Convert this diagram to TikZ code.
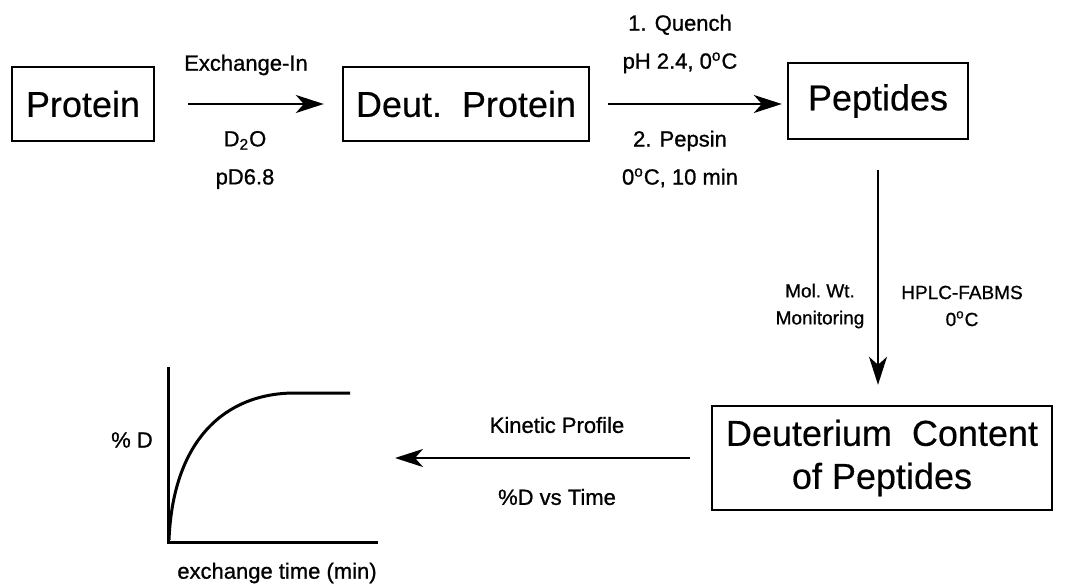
\documentclass[tikz,border=0pt]{standalone}
\usepackage{fontspec}
\setmainfont{Liberation Sans}
\newfontfamily\boxfont{Liberation Sans}[FakeBold=0.4]
\newfontfamily\lblfont{Liberation Sans}[FakeBold=0.9]
\usetikzlibrary{arrows.meta,positioning,calc}

\begin{document}
\begin{tikzpicture}[x=0.5pt, y=-0.5pt,
    box/.style={draw, line width=1.2pt, inner sep=0pt, font=\boxfont\fontsize{18}{21.5}\selectfont, align=center},
    lbl/.style={font=\lblfont\fontsize{11}{19}\selectfont, align=center},
    slbl/.style={font=\lblfont\fontsize{9.5}{13.5}\selectfont, align=center},
    arrow/.style={-{Stealth[length=14pt, width=9pt, inset=4pt]}, line width=1pt},
    axis/.style={line width=1.5pt}
]
\useasboundingbox (0,0) rectangle (1086,588);

% Boxes of the scheme
\node[box, minimum width=71pt, minimum height=37pt] (prot) at (83,104) {Protein};
\node[box, minimum width=123pt, minimum height=37pt] (deut) at (466,104) {Deut.~~Protein};
\node[box, minimum width=90pt, minimum height=38pt] (pept) at (878,101) {Peptides};
\node[box, minimum width=170pt, minimum height=52pt] (dcont) at (882,458) {Deuterium~~Content\\of Peptides};

% Arrows between the boxes
\draw[arrow, shorten <=16.5pt, shorten >=9pt] (prot) -- (deut);
\draw[arrow, shorten <=9pt, shorten >=2.5pt] (deut.east) -- (deut.east -| pept.west);
\draw[arrow, shorten <=15pt, shorten >=10pt] (pept.south) -- (pept.south |- dcont.north);
\coordinate (plot) at (395,458);
\draw[arrow, shorten <=10.5pt] (dcont.west) -- (plot);

% Conditions
\node[lbl] (exin) at (246,65) {Exchange-In};
\node[lbl] (dtwo) at (245,160) {D\textsubscript{2}O\\pD6.8};
\node[lbl] (quench) at (680,44) {1. Quench\\pH 2.4, 0\textsuperscript{o}C};
\node[lbl] (pepsin) at (680,159) {2. Pepsin\\0\textsuperscript{o}C, 10 min};
\node[slbl] (molwt) at (820,306) {Mol.\ Wt.\\Monitoring};
\node[slbl] (hplc) at (962,306) {HPLC-FABMS\\0\textsuperscript{o}C};
\node[lbl] (kin) at (557,425) {Kinetic Profile};
\node[lbl] (dvst) at (557,497) {\%D vs Time};

% Exchange plot
\draw[axis] (168,367) -- (168,542) -- (378,542);
\draw[axis] (169,540) .. controls (173,440) and (225,393) .. (295,393) -- (350,393);
\node[lbl] (pcd) at (132,440) {\% D};
\node[lbl] (xtime) at (277,573) {exchange time (min)};
\end{tikzpicture}
\end{document}
